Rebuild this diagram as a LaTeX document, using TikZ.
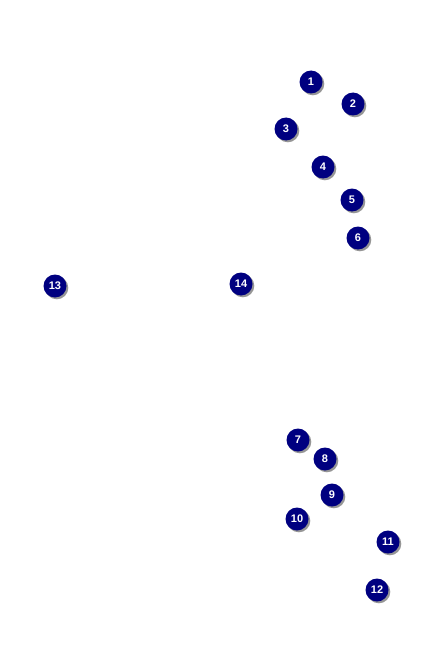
\documentclass[tikz,border=0pt]{standalone}
\usepackage{fontspec}
\setmainfont{Liberation Sans}
\begin{document}
\begin{tikzpicture}[x=1pt,y=-1pt,
  badge/.style={circle,fill={rgb,255:red,0;green,0;blue,128},text=white,font=\bfseries\fontsize{11}{12}\selectfont,minimum size=23pt,inner sep=0pt,
    preaction={fill={rgb,255:red,150;green,150;blue,150},transform canvas={shift={(1.8pt,-1.8pt)}}}}]
\useasboundingbox (0,0) rectangle (425,650);
\node[badge] (n1) at (311,82) {1};
\node[badge] (n2) at (353,104) {2};
\node[badge] (n3) at (286,129) {3};
\node[badge] (n4) at (323,167) {4};
\node[badge] (n5) at (352,200) {5};
\node[badge] (n6) at (358,238) {6};
\node[badge] (n13) at (55,286) {13};
\node[badge] (n14) at (241,284) {14};
\node[badge] (n7) at (298,440) {7};
\node[badge] (n8) at (325,459) {8};
\node[badge] (n9) at (332,495) {9};
\node[badge] (n10) at (297,519) {10};
\node[badge] (n11) at (388,542) {11};
\node[badge] (n12) at (377,590) {12};
\end{tikzpicture}
\end{document}
